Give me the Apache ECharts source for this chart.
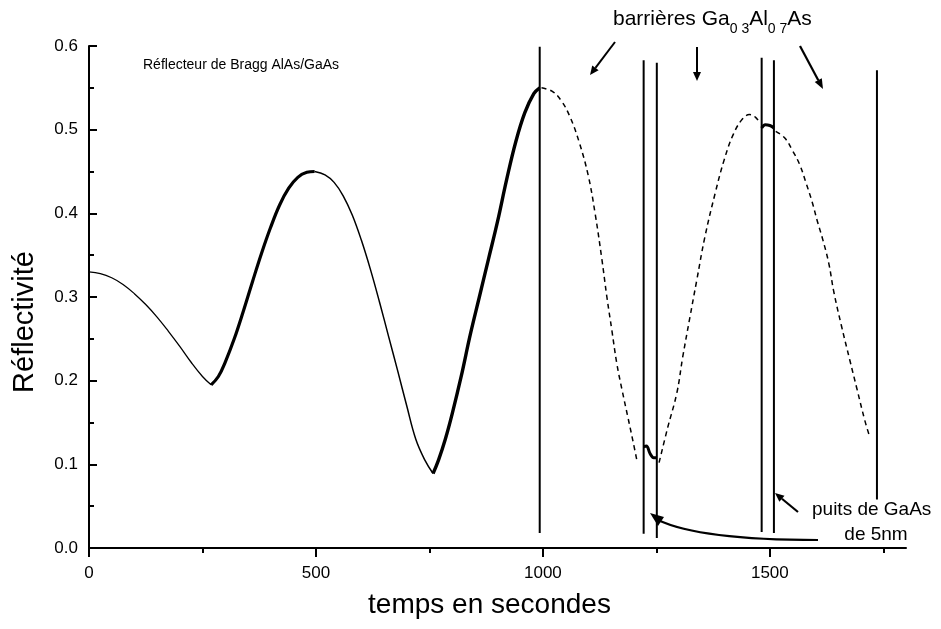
<!DOCTYPE html>
<html>
<head>
<meta charset="utf-8">
<script src="https://cdn.jsdelivr.net/npm/echarts@6/dist/echarts.min.js"></script>
<style>
html,body{margin:0;padding:0;background:#fff;}
#c{width:941px;height:629px;}
</style>
</head>
<body>
<div id="c"></div>
<script>
// ---- data (time in s, reflectivity) ----
var xTicks = [0, 500, 1000, 1500];
var xMinorTicks = [250, 750, 1250, 1750];
var yTicks = [0, 0.1, 0.2, 0.3, 0.4, 0.5, 0.6];

var segAT = [0, 25, 50, 75, 100, 125, 150, 175, 200, 225, 250, 269];
var segAV = [0.330, 0.328, 0.323, 0.315, 0.304, 0.291, 0.276, 0.259, 0.241, 0.222, 0.205, 0.195];

var segBT = [269, 285, 300, 320, 340, 360, 380, 400, 420, 440, 460, 480, 497];
var segBV = [0.195, 0.205, 0.222, 0.250, 0.283, 0.318, 0.352, 0.383, 0.410, 0.430, 0.443, 0.449, 0.450];

var segCT = [497, 520, 540, 560, 580, 600, 620, 640, 660, 680, 700, 720, 740, 758];
var segCV = [0.450, 0.446, 0.437, 0.421, 0.398, 0.368, 0.333, 0.294, 0.253, 0.212, 0.170, 0.130, 0.105, 0.089];

var segDT = [758, 770, 785, 800, 820, 840, 860, 880, 900, 920, 940, 960, 980, 993];
var segDV = [0.089, 0.105, 0.130, 0.160, 0.205, 0.255, 0.300, 0.345, 0.390, 0.440, 0.485, 0.520, 0.543, 0.550];

var dash1T = [997, 1020, 1040, 1060, 1080, 1100, 1115, 1130, 1141, 1152, 1163, 1174, 1187, 1198, 1207];
var dash1V = [0.550, 0.546, 0.535, 0.515, 0.485, 0.445, 0.400, 0.345, 0.300, 0.260, 0.220, 0.190, 0.157, 0.129, 0.105];

var well1T = [1222, 1228, 1236, 1244, 1251];
var well1V = [0.121, 0.122, 0.113, 0.108, 0.108];

var dash2T = [1256, 1275, 1295, 1308, 1324, 1339, 1357, 1380, 1400, 1420, 1440, 1455, 1468, 1478];
var dash2V = [0.102, 0.144, 0.185, 0.228, 0.276, 0.320, 0.372, 0.425, 0.465, 0.495, 0.513, 0.518, 0.515, 0.508];

var well2T = [1482, 1490, 1500, 1509];
var well2V = [0.502, 0.506, 0.505, 0.502];

var dash3T = [1513, 1533, 1550, 1566, 1580, 1593, 1605, 1617, 1630, 1641, 1658, 1676, 1692, 1709, 1720];
var dash3V = [0.498, 0.490, 0.475, 0.458, 0.436, 0.414, 0.390, 0.368, 0.340, 0.306, 0.265, 0.225, 0.190, 0.153, 0.133];

var barrierX = [993, 1222, 1251, 1482, 1509, 1736];
var barrierTop = [0.599, 0.583, 0.580, 0.586, 0.583, 0.571];
var barrierBottom = [0.018, 0.017, 0.012, 0.019, 0.018, 0.058];

function pairs(t, v) { return t.map(function (x, i) { return [x, v[i]]; }); }

var FONT = '"Liberation Sans", Arial, sans-serif';
var chart = echarts.init(document.getElementById('c'));

function lineSeries(t, v, width, dashed) {
  return {
    type: 'line', xAxisIndex: 0, yAxisIndex: 0,
    data: pairs(t, v), smooth: 0.4, showSymbol: false, symbol: 'none',
    lineStyle: { color: '#000', width: width, type: dashed ? [5, 4] : 'solid' },
    silent: true, animation: false
  };
}

var series = [
  lineSeries(segAT, segAV, 1.3, false),
  lineSeries(segBT, segBV, 3.2, false),
  lineSeries(segCT, segCV, 1.5, false),
  lineSeries(segDT, segDV, 3.4, false),
  lineSeries(dash1T, dash1V, 1.5, true),
  lineSeries(well1T, well1V, 3, false),
  lineSeries(dash2T, dash2V, 1.5, true),
  lineSeries(well2T, well2V, 3, false),
  lineSeries(dash3T, dash3V, 1.5, true)
];
barrierX.forEach(function (x, i) {
  series.push({
    type: 'line', data: [[x, barrierBottom[i]], [x, barrierTop[i]]],
    showSymbol: false, symbol: 'none',
    lineStyle: { color: '#000', width: 2 }, silent: true, animation: false
  });
});

function arrow(x1, y1, x2, y2, w, headLen, headW) {
  var dx = x2 - x1, dy = y2 - y1, L = Math.sqrt(dx * dx + dy * dy);
  var ux = dx / L, uy = dy / L;
  var bx = x2 - ux * headLen, by = y2 - uy * headLen;
  return [
    { type: 'line', shape: { x1: x1, y1: y1, x2: bx, y2: by }, style: { stroke: '#000', lineWidth: w } },
    { type: 'polygon', shape: { points: [[x2, y2], [bx - uy * headW, by + ux * headW], [bx + uy * headW, by - ux * headW]] }, style: { fill: '#000' } }
  ];
}

var graphics = [];
graphics.push({
  type: 'text', left: 143, top: 58,
  style: { text: 'Réflecteur de Bragg AlAs/GaAs', font: '14px ' + FONT, fill: '#000' }
});
graphics.push({
  type: 'text', x: 613, y: 4,
  style: {
    text: '{a|barrières Ga}{s|0 3}{a|Al}{s|0 7}{a|As}',
    rich: {
      a: { fontSize: 21, fontFamily: FONT, fill: '#000', verticalAlign: 'bottom', lineHeight: 26 },
      s: { fontSize: 14, fontFamily: FONT, fill: '#000', verticalAlign: 'bottom', lineHeight: 16, padding: [0, 0, -6, 0] }
    }
  }
});
graphics.push({
  type: 'text', x: 812, y: 500,
  style: { text: 'puits de GaAs', font: '19px ' + FONT, fill: '#000' }
});
graphics.push({
  type: 'text', x: 876, y: 525,
  style: { text: 'de 5nm', font: '19px ' + FONT, fill: '#000', align: 'center' }
});
graphics = graphics.concat(arrow(615, 42, 590, 75, 2, 9, 4));
graphics = graphics.concat(arrow(697, 47, 697, 81, 2, 9, 4));
graphics = graphics.concat(arrow(800, 46, 823, 89, 2.2, 10, 4));
graphics = graphics.concat(arrow(798, 512, 775, 493, 2.2, 9, 4));
graphics.push({
  type: 'bezierCurve',
  shape: { x1: 818, y1: 540, x2: 658, y2: 520, cpx1: 700, cpy1: 540 },
  style: { stroke: '#000', lineWidth: 2, fill: null }
});
graphics.push({
  type: 'polygon',
  shape: { points: [[650, 513], [664, 517], [658, 526]] },
  style: { fill: '#000' }
});

var option = {
  backgroundColor: '#fff',
  animation: false,
  grid: { left: 89, right: 35, top: 46, bottom: 81 },
  xAxis: [{
    type: 'value', min: 0, max: 1800, interval: 500,
    axisLine: { show: true, lineStyle: { color: '#000', width: 2 } },
    axisTick: { show: true, inside: false, length: 9, lineStyle: { color: '#000', width: 2 }, customValues: xTicks },
    axisLabel: { color: '#000', fontSize: 17, fontFamily: FONT, margin: 17, customValues: xTicks, formatter: function (v) { return String(v); } },
    splitLine: { show: false },
    name: 'temps en secondes', nameLocation: 'middle', nameGap: 43,
    nameTextStyle: { color: '#000', fontSize: 28, fontFamily: FONT, padding: [0, 16, 0, 0] }
  }, {
    type: 'value', min: 0, max: 1800, position: 'bottom',
    axisLine: { show: false },
    axisTick: { show: true, inside: false, length: 5, lineStyle: { color: '#000', width: 2 }, customValues: xMinorTicks },
    axisLabel: { show: false },
    splitLine: { show: false }
  }],
  yAxis: {
    type: 'value', min: 0, max: 0.6, interval: 0.1,
    axisLine: { show: true, lineStyle: { color: '#000', width: 2 } },
    axisTick: { show: true, inside: true, length: 8, lineStyle: { color: '#000', width: 2 } },
    minorTick: { show: true, splitNumber: 2, length: 5, lineStyle: { color: '#000', width: 2 } },
    axisLabel: { color: '#000', fontSize: 17, fontFamily: FONT, margin: 11, formatter: function (v) { return v.toFixed(1); } },
    splitLine: { show: false },
    name: 'Réflectivité', nameLocation: 'middle', nameGap: 50,
    nameTextStyle: { color: '#000', fontSize: 29, fontFamily: FONT, padding: [0, 50, 0, 0] }
  },
  series: series,
  graphic: graphics
};
chart.setOption(option);
</script>
</body>
</html>
